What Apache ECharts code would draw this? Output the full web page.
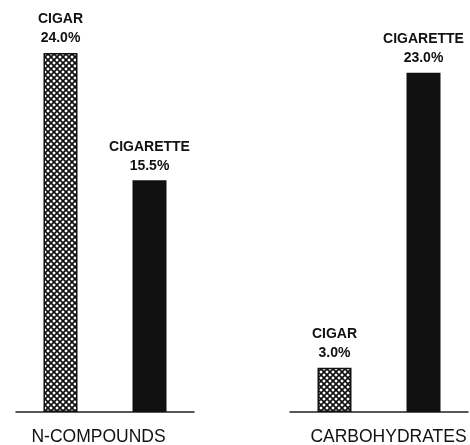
<!DOCTYPE html>
<html>
<head>
<meta charset="utf-8">
<script src="https://cdn.jsdelivr.net/npm/echarts@6/dist/echarts.min.js"></script>
<style>
	html, body { margin: 0; padding: 0; background: #fff; }
	#g_tobacco { width: 470px; height: 445px; }
</style>
</head>
<body>
<div id="g_tobacco"></div>
<script>
// data
var panelNames = ['N-COMPOUNDS', 'CARBOHYDRATES'];
var products = ['CIGAR', 'CIGARETTE'];
var nCompounds = [24.0, 15.5];
var carbohydrates = [3.0, 23.0];

// cross hatch for the cigar bars
function hatch() {
	var c = document.createElement('canvas');
	c.width = 6;
	c.height = 6;
	var ctx = c.getContext('2d');
	ctx.fillStyle = '#fff';
	ctx.fillRect(0, 0, 6, 6);
	ctx.strokeStyle = '#111';
	ctx.lineWidth = 1.7;
	ctx.beginPath();
	ctx.moveTo(-1, -1); ctx.lineTo(7, 7);
	ctx.moveTo(7, -1); ctx.lineTo(-1, 7);
	ctx.stroke();
	return c;
}

function barData(values) {
	var pattern = { image: hatch(), repeat: 'repeat' };
	var list = [];
	for (var i = 0; i < values.length; i++) {
		list.push({
			value: values[i],
			name: products[i],
			itemStyle: i == 0
				? { color: pattern, borderColor: '#111', borderWidth: 1.5 }
				: { color: '#111' }
		});
	}
	return list;
}

var dom = document.getElementById('g_tobacco');
var myChart = echarts.init(dom, null, { renderer: 'canvas' });

var grids = [
	{ left: 16, width: 178, top: 53, bottom: 33, outerBoundsMode: 'none' },
	{ left: 290, width: 178, top: 58, bottom: 33, outerBoundsMode: 'none' }
];
var xAxes = [], yAxes = [], series = [];
var allValues = [nCompounds, carbohydrates];

for (var k = 0; k < 2; k++) {
	xAxes.push({
		type: 'category',
		gridIndex: k,
		data: products,
		name: panelNames[k],
		nameLocation: 'middle',
		nameGap: 16,
		nameTextStyle: {
			fontFamily: 'Liberation Sans',
			fontSize: 17.5,
			color: '#111',
			padding: k == 0 ? [0, 13, 0, 0] : [0, 0, 0, 19]
		},
		axisLine: { lineStyle: { color: '#222', width: 1.5 } },
		axisTick: { show: false },
		axisLabel: { show: false }
	});
	yAxes.push({
		type: 'value',
		gridIndex: k,
		min: 0,
		max: 24,
		show: false,
		splitLine: { show: false }
	});
	series.push({
		type: 'bar',
		xAxisIndex: k,
		yAxisIndex: k,
		barWidth: 34,
		data: barData(allValues[k]),
		label: {
			show: true,
			position: 'top',
			distance: 5,
			fontFamily: 'Liberation Sans',
			fontWeight: 'bold',
			fontSize: 14,
			lineHeight: 19,
			color: '#111',
			formatter: function (p) {
				return p.name + '\n' + p.value.toFixed(1) + '%';
			}
		}
	});
}

var option = {
	backgroundColor: '#fff',
	animation: false,
	grid: grids,
	xAxis: xAxes,
	yAxis: yAxes,
	series: series
};

myChart.setOption(option, true);
</script>
</body>
</html>
